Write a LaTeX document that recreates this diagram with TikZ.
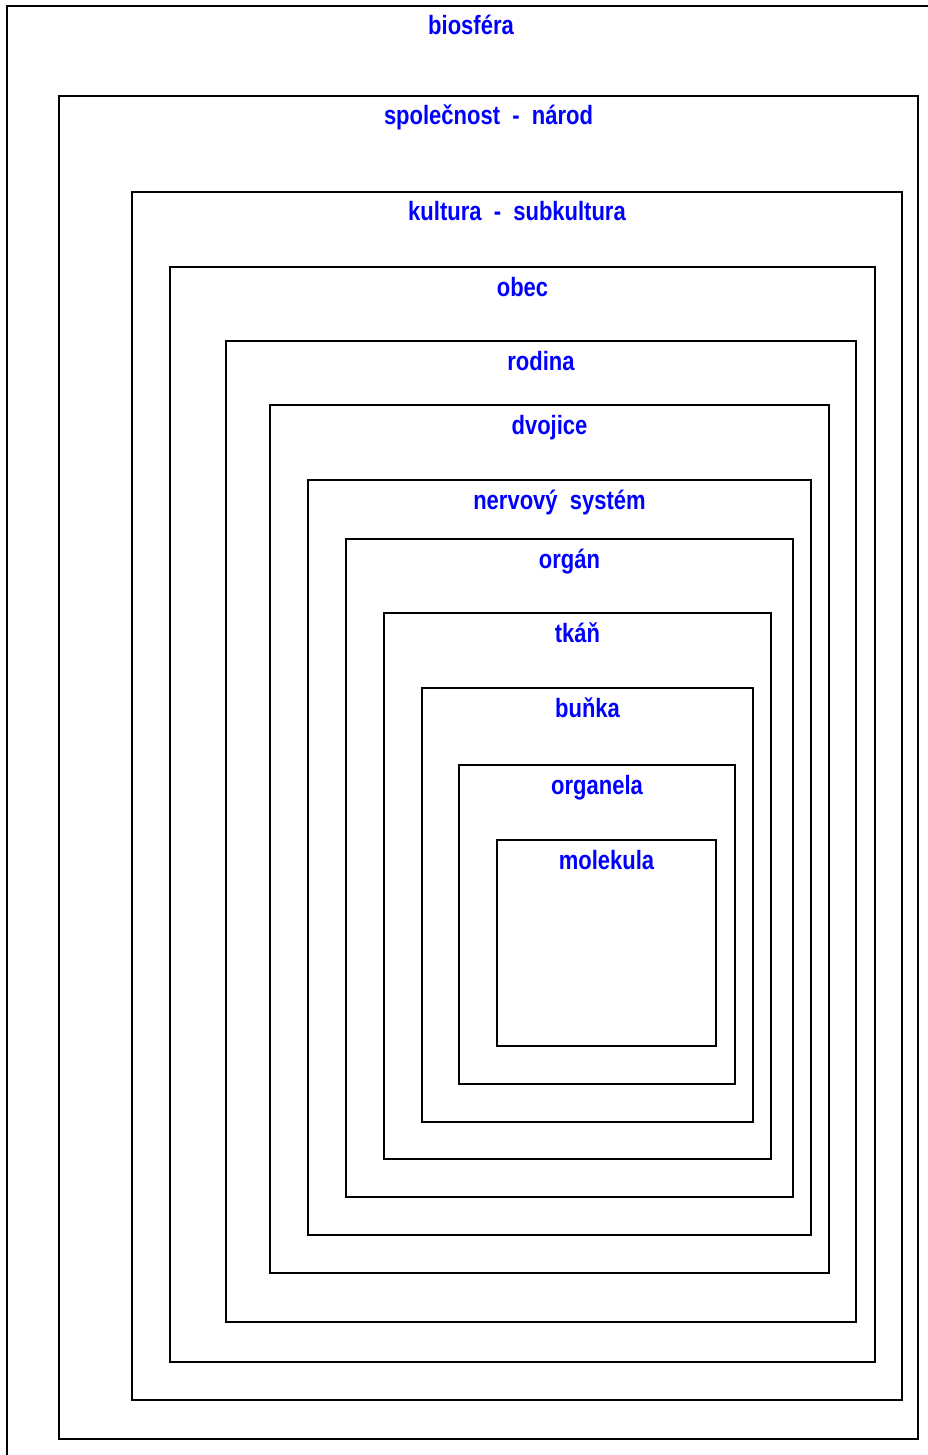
\documentclass[tikz,border=0pt]{standalone}
\usepackage{fontspec}
\setmainfont[FakeStretch=0.83]{Liberation Sans}
\begin{document}
\begin{tikzpicture}[x=1pt,y=-1pt,
    box/.style={draw=black,line width=2pt},
    lbl/.style={text=blue,font=\fontsize{26.5}{30}\selectfont\bfseries,inner sep=0pt,anchor=base}]
      % rozměr obrázku
      \useasboundingbox (0,0) rectangle (928,1455);
      \clip (0,0) rectangle (928,1455);
      % vnořené úrovně (levý, horní, pravý, dolní okraj)
      \foreach \l/\t/\r/\b/\txt [count=\i] in {
          7/6/935/1470/{biosféra},
          59/96/918/1439/{společnost\ \ -\ \ národ},
          132/192/902/1400/{kultura\ \ -\ \ subkultura},
          170/267/875/1362/{obec},
          226/341/856/1322/{rodina},
          270/405/829/1273/{dvojice},
          308/480/811/1235/{nervový\ \ systém},
          346/539/793/1197/{orgán},
          384/613/771/1159/{tkáň},
          422/688/753/1122/{buňka},
          459/765/735/1084/{organela},
          497/840/716/1046/{molekula}}
      {
        \draw[box] (\l,\t) rectangle (\r,\b);
        \node[lbl] (lvl\i) at ({(\l+\r)/2},\t+29) {\txt};
      }
    \end{tikzpicture}
\end{document}
